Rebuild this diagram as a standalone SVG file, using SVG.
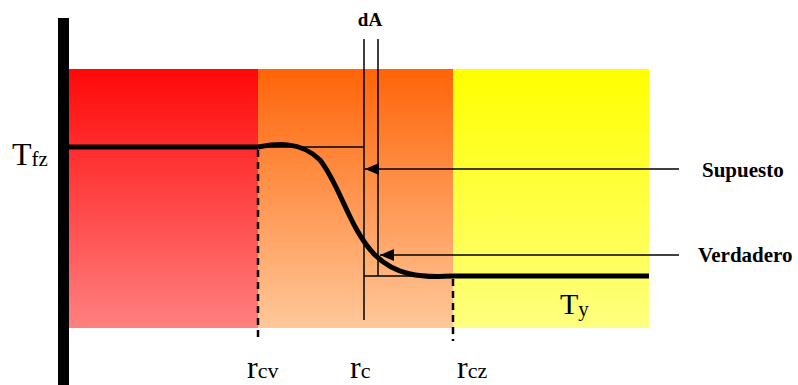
<svg xmlns="http://www.w3.org/2000/svg" width="798" height="385" viewBox="0 0 798 385">
<defs>
<linearGradient id="gRed" x1="0" y1="0" x2="0" y2="1"><stop offset="0" stop-color="#FF0808"/><stop offset="1" stop-color="#FF8080"/></linearGradient>
<linearGradient id="gOra" x1="0" y1="0" x2="0" y2="1"><stop offset="0" stop-color="#FF6408"/><stop offset="1" stop-color="#FFC89A"/></linearGradient>
<linearGradient id="gYel" x1="0" y1="0" x2="0" y2="1"><stop offset="0" stop-color="#FFFF00"/><stop offset="1" stop-color="#FFFF80"/></linearGradient>
<marker id="ah" viewBox="0 0 14 12" refX="14" refY="6" markerWidth="14" markerHeight="12" markerUnits="userSpaceOnUse" orient="auto"><path d="M0,0 L14,6 L0,12 Z" fill="#000"/></marker>
</defs>
<style>
.thin{stroke:#000;stroke-width:1.5;fill:none}
.thick{stroke:#000;stroke-width:5;fill:none}
.dash{stroke:#000;stroke-width:2.5;stroke-dasharray:7,5;fill:none}
text{font-family:"Liberation Serif","Times New Roman","DejaVu Serif",serif;fill:#000}
.bold{font-weight:bold}
</style>
<g id="zones">
<rect id="zone-red" x="69" y="69" width="189" height="259" fill="url(#gRed)"/>
<rect id="zone-orange" x="258" y="69" width="195" height="259" fill="url(#gOra)"/>
<rect id="zone-yellow" x="453" y="69" width="196" height="259" fill="url(#gYel)"/>
</g>
<g id="wall"><rect x="58" y="18" width="11" height="367" fill="#000"/></g>
<g id="connectors">
<line class="thin" x1="258" y1="147" x2="364" y2="147"/>
<line class="thin" x1="364" y1="276" x2="453" y2="276"/>
<line class="thin" x1="364" y1="39" x2="364" y2="320"/>
<line class="thin" x1="378" y1="39" x2="378" y2="276"/>
<line class="dash" x1="258" y1="150" x2="258" y2="341"/>
<line class="dash" x1="453" y1="279" x2="453" y2="341"/>
<line class="thick" x1="69" y1="147" x2="258" y2="147"/>
<path class="thick" d="M258,147 C275,144 300,140 320,160 C340,185 350,230 375,255 C395,275 420,278 453,276"/>
<line class="thick" x1="453" y1="276" x2="649" y2="276"/>
<line class="thin" x1="679" y1="169" x2="365" y2="169" marker-end="url(#ah)"/>
<line class="thin" x1="679" y1="255" x2="380" y2="255" marker-end="url(#ah)"/>
</g>
<g id="labels">
<text x="12" y="165" font-size="32">T<tspan font-size="21" dy="1">fz</tspan></text>
<text x="560" y="314" font-size="30">T<tspan font-size="21" dy="2">y</tspan></text>
<text x="247" y="378" font-size="32">r<tspan font-size="22">cv</tspan></text>
<text x="350" y="378" font-size="32">r<tspan font-size="22">c</tspan></text>
<text x="457" y="378" font-size="32">r<tspan font-size="22">cz</tspan></text>
<text class="bold" x="370" y="26" font-size="19" text-anchor="middle">dA</text>
<text class="bold" x="702" y="177" font-size="21">Supuesto</text>
<text class="bold" x="698" y="262" font-size="21">Verdadero</text>
</g>
</svg>
